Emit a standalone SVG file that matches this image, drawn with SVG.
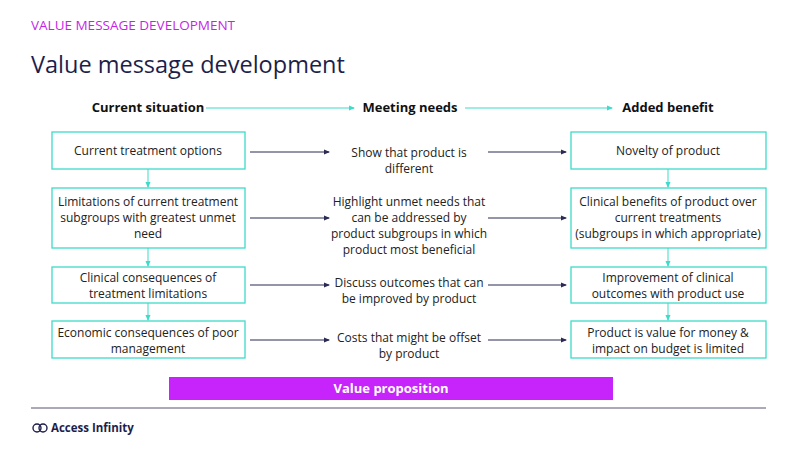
<svg xmlns="http://www.w3.org/2000/svg" width="800" height="450" viewBox="0 0 800 450">
<style>
text{font-family:"Open Sans","Noto Sans",sans-serif;fill:#222;}
.t{font-size:12px;text-anchor:middle;}
.h{font-size:13px;font-weight:bold;text-anchor:middle;fill:#111;}
.box{fill:#fff;stroke:#3ddbc9;stroke-width:1.3;}
.dk{stroke:#2a2a55;stroke-width:1;fill:none;}
.tl{stroke:#3ddbc9;stroke-width:1;fill:none;}
</style>
<defs>
<marker id="ad" markerWidth="6" markerHeight="6" refX="5" refY="3" orient="auto" markerUnits="userSpaceOnUse"><path d="M0,0.5 L6,3 L0,5.5z" fill="#2a2a55"/></marker>
<marker id="at" markerWidth="6" markerHeight="6" refX="5" refY="3" orient="auto" markerUnits="userSpaceOnUse"><path d="M0,0.5 L6,3 L0,5.5z" fill="#3ddbc9"/></marker>
</defs>
<rect width="800" height="450" fill="#fff"/>
<text x="31" y="30" style="font-size:13.5px;fill:#c61fe6">VALUE MESSAGE DEVELOPMENT</text>
<text x="31" y="73" style="font-size:23.5px;fill:#1e1e4a">Value message development</text>
<g id="headers">
<text class="h" x="148" y="112">Current situation</text>
<text class="h" x="410" y="112">Meeting needs</text>
<text class="h" x="668" y="112">Added benefit</text>
</g>
<g id="connectors">
<path class="tl" d="M206,108 H354" marker-end="url(#at)"/>
<path class="tl" d="M465,108 H612" marker-end="url(#at)"/>
<path class="tl" d="M148,169 V187" marker-end="url(#at)"/>
<path class="tl" d="M148,248 V266" marker-end="url(#at)"/>
<path class="tl" d="M148,303 V320" marker-end="url(#at)"/>
<path class="tl" d="M668,169 V187" marker-end="url(#at)"/>
<path class="tl" d="M668,248 V266" marker-end="url(#at)"/>
<path class="tl" d="M668,303 V320" marker-end="url(#at)"/>
<path class="dk" d="M250,152 H329" marker-end="url(#ad)"/>
<path class="dk" d="M250,218 H329" marker-end="url(#ad)"/>
<path class="dk" d="M250,285 H329" marker-end="url(#ad)"/>
<path class="dk" d="M250,340 H329" marker-end="url(#ad)"/>
<path class="dk" d="M488,152 H566" marker-end="url(#ad)"/>
<path class="dk" d="M488,218 H566" marker-end="url(#ad)"/>
<path class="dk" d="M488,285 H566" marker-end="url(#ad)"/>
<path class="dk" d="M488,340 H566" marker-end="url(#ad)"/>
</g>
<g id="l1"><rect class="box" x="52" y="132" width="193" height="37"/><text class="t" x="148" y="155">Current treatment options</text></g>
<g id="l2"><rect class="box" x="52" y="188" width="193" height="60"/><text class="t" x="148" y="206">Limitations of current treatment</text><text class="t" x="148" y="222">subgroups with greatest unmet</text><text class="t" x="148" y="238">need</text></g>
<g id="l3"><rect class="box" x="52" y="267" width="193" height="36"/><text class="t" x="148" y="282">Clinical consequences of</text><text class="t" x="148" y="298">treatment limitations</text></g>
<g id="l4"><rect class="box" x="52" y="321" width="193" height="37"/><text class="t" x="148" y="337">Economic consequences of poor</text><text class="t" x="148" y="353">management</text></g>
<g id="m1"><text class="t" x="409" y="157">Show that product is</text><text class="t" x="409" y="173">different</text></g>
<g id="m2"><text class="t" x="409" y="206">Highlight unmet needs that</text><text class="t" x="409" y="222">can be addressed by</text><text class="t" x="409" y="238">product subgroups in which</text><text class="t" x="409" y="254">product most beneficial</text></g>
<g id="m3"><text class="t" x="409" y="287">Discuss outcomes that can</text><text class="t" x="409" y="303">be improved by product</text></g>
<g id="m4"><text class="t" x="409" y="342">Costs that might be offset</text><text class="t" x="409" y="358">by product</text></g>
<g id="r1"><rect class="box" x="571" y="132" width="195" height="37"/><text class="t" x="668" y="155">Novelty of product</text></g>
<g id="r2"><rect class="box" x="571" y="188" width="195" height="60"/><text class="t" x="668" y="206">Clinical benefits of product over</text><text class="t" x="668" y="222">current treatments</text><text class="t" x="668" y="238">(subgroups in which appropriate)</text></g>
<g id="r3"><rect class="box" x="571" y="267" width="195" height="36"/><text class="t" x="668" y="282">Improvement of clinical</text><text class="t" x="668" y="298">outcomes with product use</text></g>
<g id="r4"><rect class="box" x="571" y="321" width="195" height="37"/><text class="t" x="668" y="337">Product is value for money &amp;</text><text class="t" x="668" y="353">impact on budget is limited</text></g>
<g id="vp"><rect x="169" y="377" width="444" height="23" fill="#c624fa"/><text x="391" y="393" style="font-size:13px;font-weight:bold;fill:#fff;text-anchor:middle">Value  proposition</text></g>
<line x1="31" y1="408" x2="766" y2="408" stroke="#555570" stroke-width="1"/>
<g id="logo">
<circle cx="37" cy="428" r="4" fill="none" stroke="#1e1e4a" stroke-width="1.4"/>
<circle cx="43" cy="428" r="4" fill="none" stroke="#1e1e4a" stroke-width="1.4"/>
<text x="51" y="432" style="font-size:11.5px;font-weight:bold;fill:#1e1e4a">Access Infinity</text>
</g>
</svg>
